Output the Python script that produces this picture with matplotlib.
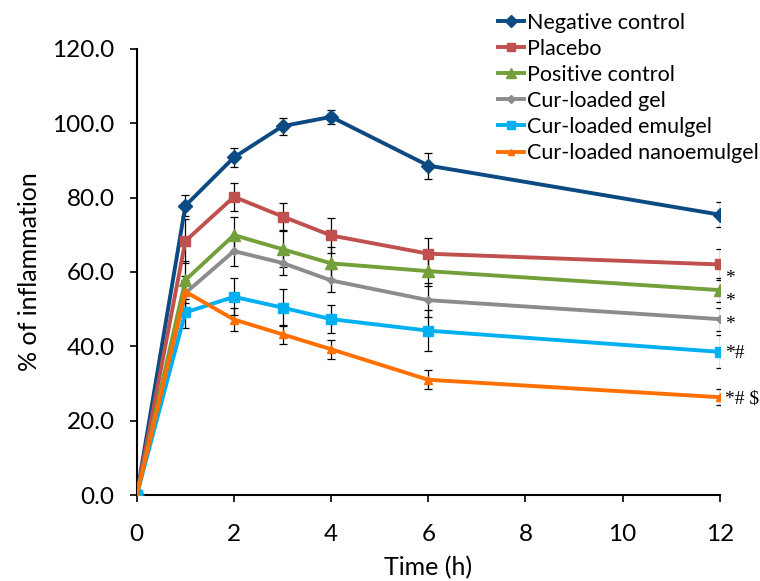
import matplotlib
matplotlib.use("Agg")
import matplotlib.pyplot as plt
from matplotlib.lines import Line2D

time_h = [0, 1, 2, 3, 4, 6, 12]
series_names = ["Negative control", "Placebo", "Positive control",
                "Cur-loaded gel", "Cur-loaded emulgel", "Cur-loaded nanoemulgel"]
neg_ctrl = [0, 77.8, 90.8, 99.2, 101.7, 88.6, 75.4]
placebo = [0, 68.3, 80.2, 74.9, 69.8, 64.9, 62.0]
pos_ctrl = [0, 57.8, 69.9, 66.1, 62.3, 60.2, 55.1]
cur_gel = [0, 54.3, 65.6, 62.4, 57.7, 52.4, 47.3]
cur_emulgel = [0, 49.1, 53.3, 50.4, 47.3, 44.2, 38.5]
cur_nano = [0, 54.7, 47.2, 43.2, 39.2, 31.0, 26.3]

neg_err = [0, 2.8, 2.5, 2.3, 1.8, 3.5, 3.3]
placebo_err = [0, 6.0, 3.7, 3.6, 4.7, 4.3, 4.1]
pos_err = [0, 5.0, 4.9, 4.8, 4.5, 4.0, 3.2]
gel_err = [0, 4.5, 4.0, 3.1, 3.2, 4.5, 3.1]
emulgel_err = [0, 4.3, 5.0, 5.0, 3.8, 5.6, 4.4]
nano_err = [0, 3.0, 3.1, 2.5, 2.5, 2.5, 2.1]

sig_labels = ["", "*", "*", "*", "*#", "*# $"]
sig_dy = [0, -10, -8, -4, -1, -1]

values = [neg_ctrl, placebo, pos_ctrl, cur_gel, cur_emulgel, cur_nano]
errors = [neg_err, placebo_err, pos_err, gel_err, emulgel_err, nano_err]
colors = ["#0B4A82", "#C0504D", "#73A03A", "#8C8C8C", "#00B0F0", "#FF7000"]
markers = ["D", "s", "^", "D", "s", "^"]
msizes = [7.5, 7.5, 8.5, 4.5, 7.5, 6]

plt.rcParams['font.family'] = ['Lato', 'DejaVu Sans']

fig = plt.figure(figsize=(7.6, 5.81), dpi=100)
ax = fig.add_axes([0.180, 0.148, 0.767, 0.768])

for vals, errs, c, m, ms, name in zip(values, errors, colors, markers, msizes, series_names):
    ax.errorbar(time_h, vals, yerr=errs, color=c, marker=m, markersize=ms,
                linewidth=2.8, ecolor="black", elinewidth=0.9, capsize=3,
                capthick=0.9, label=name, zorder=3)

for vals, lab, dy in zip(values, sig_labels, sig_dy):
    if lab:
        ax.annotate(lab, (time_h[-1], vals[-1]), xytext=(4, dy),
                    textcoords="offset points", fontsize=14,
                    family="Liberation Serif", va="center", ha="left",
                    annotation_clip=False)

ax.set_xlim(0, 12)
ax.set_ylim(0, 120)
ax.set_xticks([0, 2, 4, 6, 8, 10, 12])
ax.set_yticks([0, 20, 40, 60, 80, 100, 120])
ax.set_yticklabels([f"{v:.1f}" for v in [0, 20, 40, 60, 80, 100, 120]])
ax.tick_params(labelsize=17.5, direction="out", length=5, width=1.2, colors="black")
ax.tick_params(axis="x", pad=16)
ax.tick_params(axis="y", pad=11)
for s in ["top", "right"]:
    ax.spines[s].set_visible(False)
for s in ["left", "bottom"]:
    ax.spines[s].set_linewidth(1.5)
ax.set_xlabel("Time (h)", fontsize=18, labelpad=8)
ax.set_ylabel("% of inflammation", fontsize=18, labelpad=8)

handles = [Line2D([0], [0], color=c, marker=m, markersize=ms * 0.8, linewidth=2.8)
           for c, m, ms in zip(colors, markers, msizes)]
fig.legend(handles, series_names, loc="upper left", bbox_to_anchor=(0.638, 1.0),
           frameon=False, fontsize=15.5, handlelength=1.2, handletextpad=0.15,
           labelspacing=0.28, borderaxespad=0.2)

fig.savefig("out.png", dpi=100)
